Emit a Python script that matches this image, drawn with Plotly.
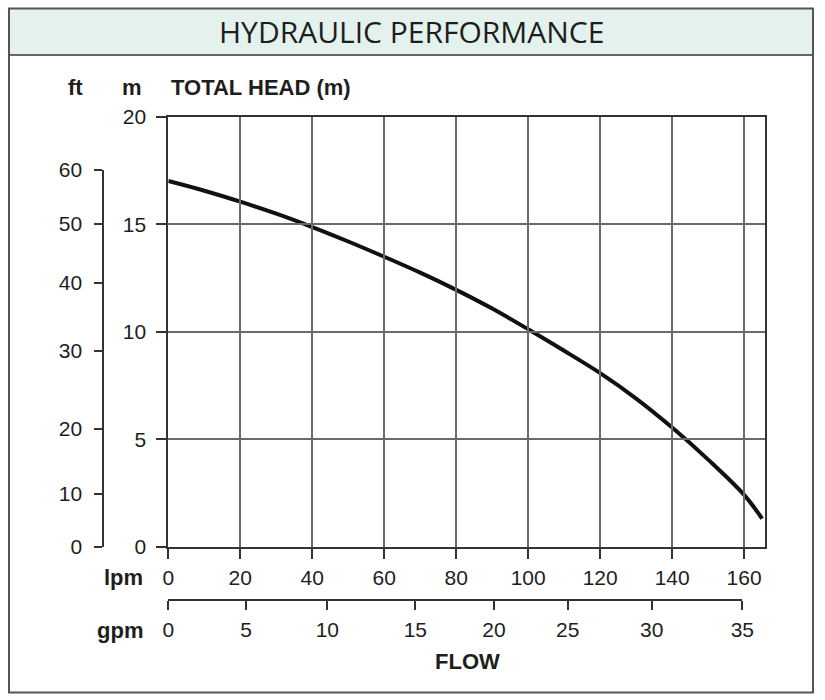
import plotly.graph_objects as go

# ---- data ----
flow_lpm = [0, 10, 20, 30, 40, 50, 60, 70, 80, 90, 100, 110, 120, 130, 140, 150, 160, 165]
head_m = [17.01, 16.56, 16.05, 15.49, 14.87, 14.20, 13.49, 12.75, 11.95, 11.08, 10.12, 9.12,
          8.08, 6.90, 5.55, 4.06, 2.42, 1.32]

lpm_ticks = [0, 20, 40, 60, 80, 100, 120, 140, 160]
m_ticks = [0, 5, 10, 15, 20]
# secondary scales as printed on the chart (label, and where it sits on the primary scale)
gpm_labels = ["0", "5", "10", "15", "20", "25", "30", "35"]
gpm_pos_lpm = [0, 21.6, 44.2, 68.65, 90.5, 111.0, 134.35, 159.5]
ft_labels = ["0", "10", "20", "30", "40", "50", "60"]
ft_pos_m = [0, 2.46, 5.50, 9.12, 12.28, 15.01, 17.52]

W, H = 825, 700
def px(x):
    return x / W
def py(y):
    return 1 - y / H

FONT = "Liberation Sans, Arial, sans-serif"
TXT = "#1e1e1e"
AX = "#333333"
tickfont = dict(family=FONT, size=21, color=TXT)

fig = go.Figure()
fig.add_trace(go.Scatter(x=flow_lpm, y=head_m, mode="lines",
                         line=dict(color="#111111", width=4, shape="spline", smoothing=1.0),
                         hoverinfo="skip", showlegend=False, xaxis="x", yaxis="y"))
fig.add_trace(go.Scatter(x=[None], y=[None], xaxis="x2", yaxis="y", showlegend=False, hoverinfo="skip"))
fig.add_trace(go.Scatter(x=[None], y=[None], xaxis="x", yaxis="y2", showlegend=False, hoverinfo="skip"))

common = dict(showline=True, linecolor=AX, linewidth=2, tickwidth=2, tickcolor=AX,
              ticks="outside", zeroline=False, tickfont=tickfont, automargin=False)

fig.update_layout(
    template="none",
    width=W, height=H, autosize=False,
    margin=dict(l=0, r=0, t=0, b=0, pad=0, autoexpand=False),
    paper_bgcolor="white", plot_bgcolor="rgba(0,0,0,0)",
    showlegend=False,
    xaxis=dict(domain=[px(168.3), px(765)], range=[0, 165.8], tickvals=lpm_ticks,
               ticklen=10, mirror=True,
               showgrid=True, gridcolor="#6a6a6a", gridwidth=1.5,
               anchor="y", ticklabelstandoff=1, **common),
    yaxis=dict(domain=[py(547), py(116.7)], range=[0, 20], tickvals=m_ticks,
               ticklen=10, mirror=True,
               showgrid=True, gridcolor="#6a6a6a", gridwidth=1.5,
               anchor="x", ticklabelstandoff=6, **common),
    xaxis2=dict(domain=[px(168.3), px(742.3)], range=[0, 159.5],
                tickvals=gpm_pos_lpm, ticktext=gpm_labels,
                ticklen=9, showgrid=False,
                anchor="free", position=py(600), side="bottom",
                ticklabelstandoff=2, **common),
    yaxis2=dict(domain=[py(547), py(170)], range=[0, 17.52],
                tickvals=ft_pos_m, ticktext=ft_labels,
                ticklen=8, showgrid=False,
                anchor="free", position=px(103.3), side="left",
                ticklabelstandoff=8, **common),
)

# frame and header band
fig.add_shape(type="rect", xref="paper", yref="paper",
              x0=px(9), x1=px(813), y0=py(55), y1=py(8.5),
              fillcolor="#e3f2ec", line=dict(width=0), layer="below")
fig.add_shape(type="line", xref="paper", yref="paper",
              x0=px(9), x1=px(813), y0=py(55), y1=py(55),
              line=dict(color="#666666", width=2))
fig.add_shape(type="rect", xref="paper", yref="paper",
              x0=px(9), x1=px(813), y0=py(692.5), y1=py(8.5),
              line=dict(color="#555555", width=2), fillcolor="rgba(0,0,0,0)")

def ann(text, x, y, xanchor="center", size=22, bold=True, family=FONT):
    fig.add_annotation(text=f"<b>{text}</b>" if bold else text, xref="paper", yref="paper",
                       x=px(x), y=py(y), xanchor=xanchor, yanchor="middle", showarrow=False,
                       font=dict(family=family, size=size, color=TXT))

ann("HYDRAULIC PERFORMANCE", 411, 32, size=30, bold=False, family="Open Sans, Noto Sans, sans-serif")
ann("ft", 75, 88)
ann("m", 144, 88, xanchor="right")
ann("TOTAL HEAD (m)", 169, 88, xanchor="left")
ann("lpm", 145, 577, xanchor="right")
ann("gpm", 145, 630, xanchor="right")
ann("FLOW", 467, 661)

fig.write_html("out.html", post_script="document.body.style.margin='0';document.body.style.overflow='hidden';")
